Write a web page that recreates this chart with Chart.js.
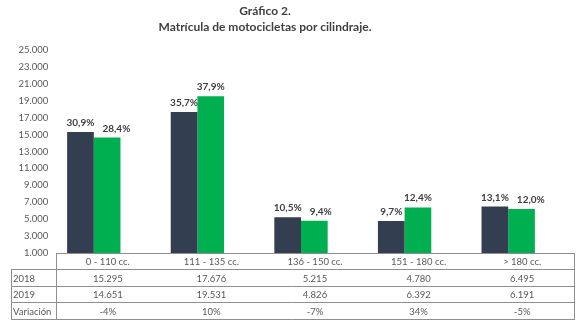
<!DOCTYPE html>
<html>
<head>
<meta charset="utf-8">
<script src="https://cdn.jsdelivr.net/npm/chart.js@4"></script>
<style>
  body { margin: 0; background: #fff; }
  #wrap { width: 582px; height: 333px; }
</style>
</head>
<body>
<div id="wrap"><canvas id="motosChart" width="582" height="333"></canvas></div>
<script>
  // Datos del gráfico
  var categorias = ['0 - 110 cc.', '111 - 135 cc.', '136 - 150 cc.', '151 - 180 cc.', '> 180 cc.'];
  var serie2018 = [15295, 17676, 5215, 4780, 6495];
  var serie2019 = [14651, 19531, 4826, 6392, 6191];
  var part2018 = ['30,9%', '35,7%', '10,5%', '9,7%', '13,1%'];
  var part2019 = ['28,4%', '37,9%', '9,4%', '12,4%', '12,0%'];
  var variacion = ['-4%', '10%', '-7%', '34%', '-5%'];

  var gris = '#595959';
  var fuente = 'Lato, "DejaVu Sans", sans-serif';

  function miles(n) {
    return String(n).replace(/\B(?=(\d{3})+(?!\d))/g, '.');
  }

  // el título del original está algo corrido a la izquierda
  var moverTitulo = {
    id: 'moverTitulo',
    afterLayout: function(chart) {
      var t = chart.titleBlock;
      if (t) { t.right = t.left + 530; t.width = 530; }
    }
  };

  // etiquetas de porcentaje encima de las barras
  var etiquetas = {
    id: 'etiquetas',
    afterDatasetsDraw: function(chart) {
      var ctx = chart.ctx;
      var m0 = chart.getDatasetMeta(0).data;
      var m1 = chart.getDatasetMeta(1).data;
      ctx.save();
      ctx.font = 'bold 10px ' + fuente;
      ctx.fillStyle = '#404040';
      ctx.textAlign = 'center';
      ctx.textBaseline = 'alphabetic';
      for (var i = 0; i < categorias.length; i++) {
        var a = m0[i], b = m1[i];
        var wa = ctx.measureText(part2018[i]).width;
        var wb = ctx.measureText(part2019[i]).width;
        var ya = a.y - 6, yb = b.y - 6;
        var xa = a.x, xb = b.x;
        // evitar que se peguen las etiquetas
        if (Math.abs(ya - yb) < 11) {
          var gap = (xb - wb / 2) - (xa + wa / 2);
          if (gap < 8) xb += 8 - gap;
        }
        ctx.fillText(part2018[i], xa, ya);
        ctx.fillText(part2019[i], xb, yb);
      }
      ctx.restore();
    }
  };

  // tabla de datos debajo del eje (desplazada como en el original)
  var tabla = {
    id: 'tabla',
    afterDraw: function(chart) {
      var ctx = chart.ctx;
      var area = chart.chartArea;
      var n = categorias.length;
      var desp = 14;
      var x0 = Math.round(area.left + desp), x1 = Math.round(area.right + desp);
      var colW = (x1 - x0) / n;
      var izq = 11;
      var top = Math.round(area.bottom);
      var filas = [top, top + 16, top + 33, top + 49, top + 66];
      ctx.save();
      ctx.strokeStyle = '#8f8f8f';
      ctx.lineWidth = 1;
      ctx.beginPath();
      ctx.moveTo(x0, filas[0] + 0.5); ctx.lineTo(x1, filas[0] + 0.5);
      for (var r = 1; r < filas.length; r++) {
        ctx.moveTo(izq, filas[r] + 0.5); ctx.lineTo(x1, filas[r] + 0.5);
      }
      ctx.moveTo(x0 + 0.5, filas[0]); ctx.lineTo(x0 + 0.5, filas[4] + 1);
      ctx.moveTo(x1 + 0.5, filas[0]); ctx.lineTo(x1 + 0.5, filas[4] + 1);
      ctx.moveTo(izq + 0.5, filas[1]); ctx.lineTo(izq + 0.5, filas[4] + 1);
      ctx.stroke();

      ctx.font = '9.5px ' + fuente;
      ctx.fillStyle = gris;
      ctx.textBaseline = 'middle';
      var filasTexto = [categorias, serie2018.map(miles), serie2019.map(miles), variacion];
      var nombres = ['', '2018', '2019', 'Variación'];
      for (var f = 0; f < 4; f++) {
        var yc = (filas[f] + filas[f + 1]) / 2 + 1;
        ctx.textAlign = 'left';
        ctx.fillText(nombres[f], izq + 2, yc);
        ctx.textAlign = 'center';
        for (var i = 0; i < n; i++) {
          ctx.fillText(filasTexto[f][i], x0 + colW * (i + 0.5), yc);
        }
      }
      ctx.restore();
    }
  };

  var ctx = document.getElementById('motosChart').getContext('2d');
  var chart = new Chart(ctx, {
    type: 'bar',
    data: {
      labels: categorias,
      datasets: [{
        label: '2018',
        data: serie2018,
        backgroundColor: '#333F50'
      }, {
        label: '2019',
        data: serie2019,
        backgroundColor: '#00B050'
      }]
    },
    options: {
      responsive: false,
      animation: false,
      layout: { padding: { left: 0, right: 22, top: 0, bottom: 80 } },
      datasets: {
        bar: { categoryPercentage: 0.515, barPercentage: 1 }
      },
      plugins: {
        legend: { display: false },
        tooltip: { enabled: false },
        title: {
          display: true,
          text: ['Gráfico 2.', 'Matrícula de motocicletas por cilindraje.'],
          color: '#404040',
          font: { family: fuente, size: 12, weight: 'bold', lineHeight: 1.333 },
          padding: { top: 3, bottom: 15 }
        }
      },
      scales: {
        x: {
          display: false
        },
        y: {
          min: 1000,
          max: 25000,
          grid: { display: false, drawTicks: false },
          border: { display: false },
          afterFit: function(scale) { scale.width = 42; },
          ticks: {
            stepSize: 2000,
            mirror: true,
            crossAlign: 'far',
            padding: -23.5,
            color: gris,
            font: { family: fuente, size: 9.5 },
            callback: function(v) { return miles(v); }
          }
        }
      }
    },
    plugins: [moverTitulo, etiquetas, tabla]
  });
</script>
</body>
</html>
